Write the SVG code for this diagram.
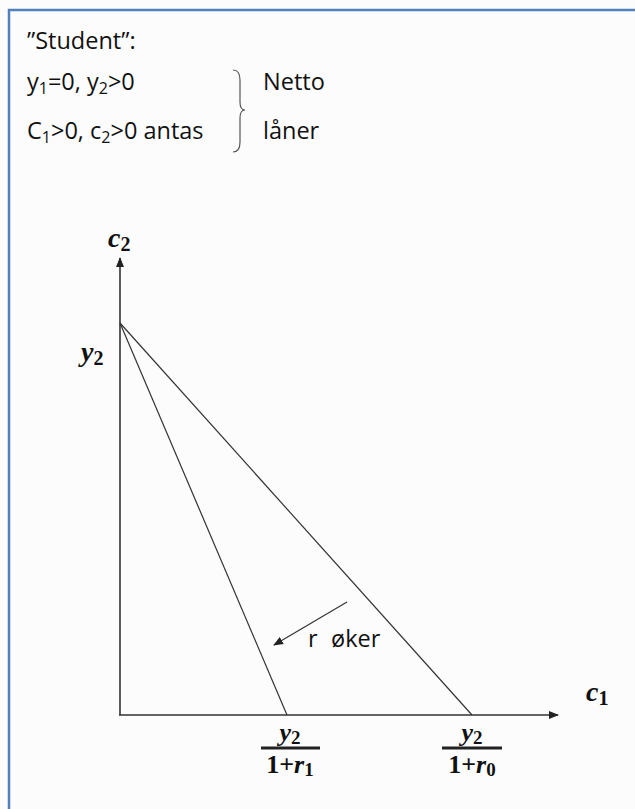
<svg xmlns="http://www.w3.org/2000/svg" width="635" height="809" viewBox="0 0 635 809">
<style>
.t{font-family:"Open Sans","Liberation Sans",sans-serif;font-size:23.5px;fill:#111}
.m{font-family:"Liberation Serif","DejaVu Serif",serif;font-weight:bold;fill:#111}
.i{font-style:italic}
.ax{stroke:#333;stroke-width:1.6;fill:none}
.ln{stroke:#333;stroke-width:1.2;fill:none}
</style>
<defs>
<marker id="ah" markerWidth="10" markerHeight="8" refX="9" refY="4" orient="auto" markerUnits="userSpaceOnUse">
<path d="M0,0 L10,4 L0,8 Z" fill="#222"/>
</marker>
</defs>
<rect x="0" y="0" width="635" height="809" fill="#fcfcfc"/>
<path d="M9,809 V10 H635" stroke="#4f81bd" stroke-width="2.5" fill="none"/>
<g id="header">
<text class="t" x="27" y="49">”Student”:</text>
<text class="t" x="27" y="90">y<tspan font-size="16" dy="4">1</tspan><tspan dy="-4">=0, y</tspan><tspan font-size="16" dy="4">2</tspan><tspan dy="-4">&gt;0</tspan></text>
<text class="t" x="27" y="139">C<tspan font-size="16" dy="4">1</tspan><tspan dy="-4">&gt;0, c</tspan><tspan font-size="16" dy="4">2</tspan><tspan dy="-4">&gt;0 antas</tspan></text>
<path d="M233,70 Q240,70 240,80 L240,102 Q240,110 245,110 Q240,110 240,118 L240,142 Q240,152 233,152" stroke="#555" stroke-width="1.2" fill="none"/>
<text class="t" x="263" y="90">Netto</text>
<text class="t" x="263" y="139">låner</text>
</g>
<g id="connectors">
<line class="ax" x1="120" y1="715" x2="120" y2="258" marker-end="url(#ah)"/>
<line class="ax" x1="119" y1="715" x2="558" y2="715" marker-end="url(#ah)"/>
<line class="ln" x1="120" y1="323" x2="287" y2="715"/>
<line class="ln" x1="120" y1="323" x2="472" y2="715"/>
<line class="ln" x1="347" y1="602" x2="274" y2="645" marker-end="url(#ah)"/>
</g>
<g id="labels">
<text class="m" x="108" y="247" font-size="28"><tspan class="i">c</tspan><tspan font-size="20" dy="4">2</tspan></text>
<text class="m" x="81" y="361" font-size="28"><tspan class="i">y</tspan><tspan font-size="20" dy="4">2</tspan></text>
<text class="m" x="586" y="701" font-size="28"><tspan class="i">c</tspan><tspan font-size="20" dy="4">1</tspan></text>
<text class="t" x="308" y="647">r<tspan x="331">øker</tspan></text>
</g>
<g id="frac1">
<text class="m" x="290" y="741" font-size="26" text-anchor="middle"><tspan class="i">y</tspan><tspan font-size="19" dy="3">2</tspan></text>
<line x1="261" y1="748" x2="320" y2="748" stroke="#222" stroke-width="3"/>
<text class="m" x="290" y="773" font-size="26" text-anchor="middle">1+<tspan class="i">r</tspan><tspan font-size="19" dy="3">1</tspan></text>
</g>
<g id="frac0">
<text class="m" x="472" y="741" font-size="26" text-anchor="middle"><tspan class="i">y</tspan><tspan font-size="19" dy="3">2</tspan></text>
<line x1="442" y1="748" x2="502" y2="748" stroke="#222" stroke-width="3"/>
<text class="m" x="472" y="773" font-size="26" text-anchor="middle">1+<tspan class="i">r</tspan><tspan font-size="19" dy="3">0</tspan></text>
</g>
</svg>
